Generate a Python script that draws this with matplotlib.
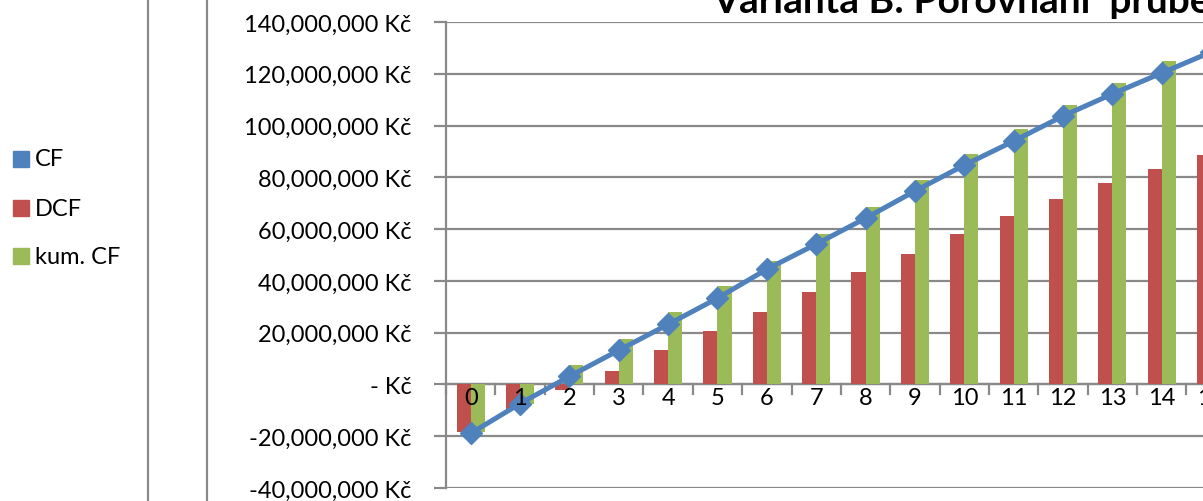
import matplotlib.pyplot as plt
from matplotlib.patches import Rectangle
from matplotlib.lines import Line2D
from matplotlib.ticker import FuncFormatter

plt.rcParams['font.family'] = ['Lato', 'DejaVu Sans']

roky = list(range(16))
cf = [-18.9, -7.4, 3.1, 13.2, 23.2, 33.3, 44.5, 54.2, 64.2, 74.7, 84.7, 94.0, 103.7, 112.2, 120.3, 128.4]
dcf = [-18.3, -9.3, -2.2, 5.1, 13.2, 20.5, 27.9, 35.6, 43.3, 50.5, 58.0, 65.1, 71.7, 77.8, 83.4, 88.6]
kum_cf = [-18.3, -7.7, 7.5, 17.4, 27.9, 37.9, 47.6, 58.0, 68.5, 78.9, 89.0, 98.6, 108.0, 116.4, 125.0, 133.0]

modra = '#4F81BD'
cervena = '#C0504D'
zelena = '#9BBB59'
seda = '#898989'
fs = 17

W, H = 1203, 502
fig = plt.figure(figsize=(W / 100, H / 100), dpi=100)

# plot area runs off the right edge like in the cropped original
ax = fig.add_axes([446 / W, 13 / H, 16 * 49.36 / W, 466 / H])

bw = 0.285
ax.bar([x - bw / 2 for x in roky], [v * 1e6 for v in dcf], width=bw, color=cervena, zorder=2)
ax.bar([x + bw / 2 for x in roky], [v * 1e6 for v in kum_cf], width=bw, color=zelena, zorder=2)
ax.plot(roky, [v * 1e6 for v in cf], color=modra, lw=3.6, marker='D', ms=11,
        mec=modra, zorder=3)

ax.set_xlim(-0.5, 15.5)
ax.set_ylim(-40e6, 140e6)
ax.set_yticks([i * 20e6 for i in range(-2, 8)])


def kc(v, pos):
    if abs(v) < 1:
        return '- Kč'
    return f'{v:,.0f} Kč'


ax.yaxis.set_major_formatter(FuncFormatter(kc))
ax.yaxis.grid(True, color=seda, lw=1.6, zorder=0)
ax.set_axisbelow(True)
for s in ['top', 'right', 'bottom']:
    ax.spines[s].set_visible(False)
ax.spines['left'].set_color(seda)
ax.spines['left'].set_linewidth(1.6)
ax.tick_params(axis='y', colors=seda, length=9, width=1.6, pad=16,
               labelcolor='black', labelsize=fs)

# x axis sits on zero, ticks between categories
ax.axhline(0, color=seda, lw=1.6, zorder=1)
ax.set_xticks([])
for i in range(17):
    ax.plot([i - 0.5, i - 0.5], [0, -3.5e6], color=seda, lw=1.6, zorder=1, clip_on=False)
for i in roky:
    ax.text(i, -1.0e6, str(i), ha='center', va='top', fontsize=fs, zorder=4)

# divider lines on the left
for x in [148, 207]:
    fig.add_artist(Line2D([x / W, x / W], [0, 1], color=seda, lw=1.6))

# legend
polozky = [('CF', modra, 160), ('DCF', cervena, 209), ('kum. CF', zelena, 257)]
for txt, c, y in polozky:
    fig.add_artist(Rectangle((13 / W, 1 - (y + 8) / H), 16 / W, 16 / H, color=c))
    fig.text(35 / W, 1 - y / H, txt, va='center', ha='left', fontsize=fs)

fig.text(712 / W, 1 - 13 / H, 'Varianta B: Porovnání  průběhu CF, DCF a kum. CF',
         ha='left', va='baseline', fontsize=28, fontweight='bold')

fig.savefig('out.png', dpi=100)
